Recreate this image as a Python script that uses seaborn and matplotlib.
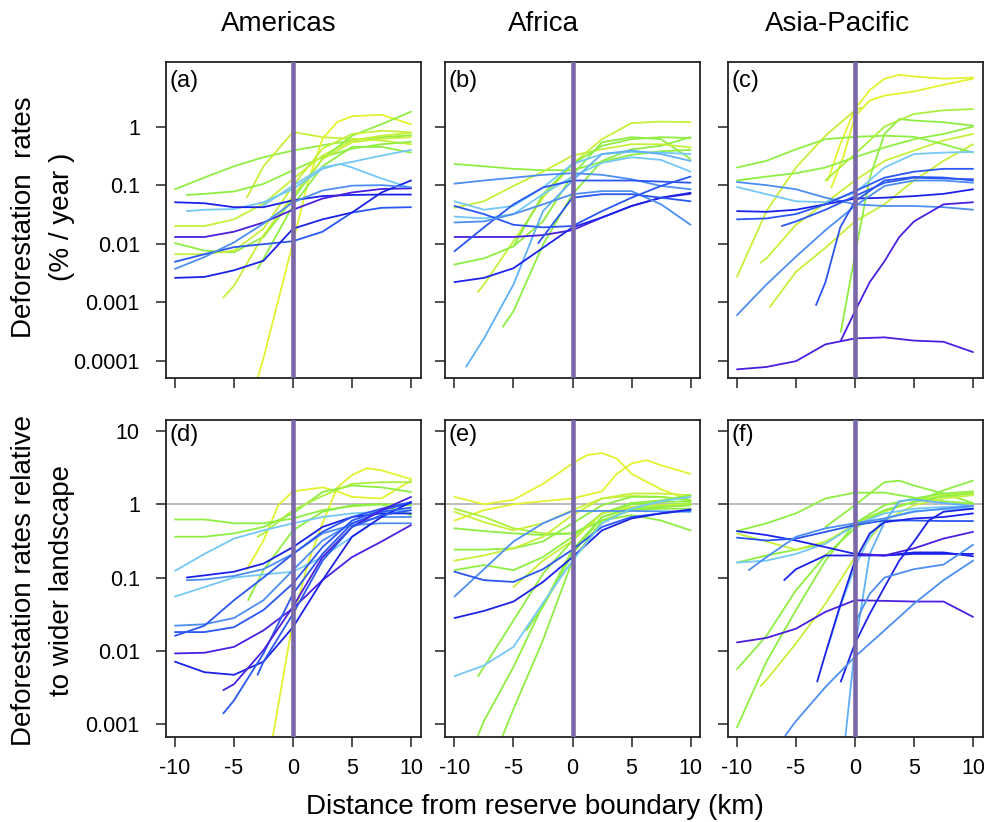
import pandas as pd
import matplotlib
matplotlib.use("Agg")
import matplotlib.pyplot as plt
from matplotlib.ticker import NullLocator
import seaborn as sns

GRID = [-10, -7.5, -5, -2.5, 0, 2.5, 5, 7.5, 10]

# (a) Americas - deforestation rate (% / year)
a_x = [GRID, [-3.9, -2.5, 0, 2.5, 5, 7.5, 10], [-3, -2.5, 0, 1.25, 2.5, 3.75, 5, 7.5, 10],
       [-9, -7.5, -5, -2.5, 0, 2.5, 5, 7.5, 10], GRID, GRID, GRID,
       [-5.9, -5, -2.5, 0, 2.5, 5, 7.5, 10], [-3, -2.5, 0, 2.5, 5, 7.5, 10],
       [-9, -7.5, -5, -2.5, 0, 2.5, 4, 5, 7.5, 10], [-2.5, 0, 2.5, 5, 7.5, 10],
       GRID, GRID, GRID, GRID, GRID]
a_y = [[0.085, 0.135, 0.21, 0.30, 0.39, 0.48, 0.58, 0.66, 0.71],
       [0.062, 0.21, 0.81, 0.66, 0.62, 0.58, 0.50],
       [5e-5, 1.1e-4, 0.0105, 0.11, 0.62, 1.2, 1.5, 1.6, 1.1],
       [0.068, 0.071, 0.078, 0.105, 0.18, 0.30, 0.42, 0.50, 0.55],
       [0.020, 0.020, 0.026, 0.048, 0.128, 0.32, 0.58, 0.70, 0.78],
       [0.0102, 0.0076, 0.0071, 0.013, 0.058, 0.28, 0.70, 1.1, 1.8],
       [0.0066, 0.0066, 0.0076, 0.018, 0.098, 0.42, 0.75, 0.85, 0.80],
       [0.0012, 0.0019, 0.014, 0.066, 0.28, 0.54, 0.62, 0.66],
       [0.0037, 0.0055, 0.045, 0.21, 0.45, 0.45, 0.36],
       [0.036, 0.038, 0.039, 0.051, 0.086, 0.19, 0.23, 0.20, 0.13, 0.089],
       [0.045, 0.098, 0.20, 0.25, 0.32, 0.40],
       [0.051, 0.049, 0.042, 0.042, 0.055, 0.065, 0.068, 0.069, 0.069],
       [0.013, 0.013, 0.016, 0.023, 0.038, 0.059, 0.075, 0.086, 0.088],
       [0.0049, 0.0066, 0.0087, 0.0098, 0.011, 0.016, 0.034, 0.041, 0.042],
       [0.0026, 0.0027, 0.0035, 0.0051, 0.018, 0.026, 0.034, 0.075, 0.12],
       [0.0037, 0.0059, 0.0105, 0.022, 0.051, 0.081, 0.098, 0.10, 0.092]]
a_c = ["G", "YG", "Y", "G", "YG", "G", "YG", "YG", "G", "LB", "LB",
       "DB", "P", "B", "DB", "MB"]

# (b) Africa
b_x = [GRID, [-8, -7.5, -5, -2.5, 0, 2.5, 5, 7.5, 10], [-5.9, -5, -2.5, 0, 2.5, 5, 7.5, 10],
       GRID, GRID, [-5, -2.5, 0, 2.5, 5, 7.5, 10], GRID, GRID,
       [-9, -7.5, -5, -2.5, 0, 2.5, 5, 7.5, 10], GRID, GRID, GRID, GRID, GRID, GRID,
       [-2.9, 0, 2.5, 5, 7.5, 10]]
b_y = [[0.23, 0.21, 0.19, 0.18, 0.18, 0.25, 0.33, 0.38, 0.40],
       [0.0015, 0.002, 0.011, 0.061, 0.23, 0.61, 1.15, 1.22, 1.19],
       [0.00038, 0.0007, 0.0096, 0.07, 0.26, 0.41, 0.47, 0.66],
       [0.0044, 0.0056, 0.009, 0.024, 0.15, 0.54, 0.66, 0.61, 0.28],
       [0.041, 0.053, 0.097, 0.17, 0.32, 0.41, 0.50, 0.50, 0.44],
       [0.009, 0.07, 0.23, 0.47, 0.61, 0.66, 0.64],
       [0.053, 0.038, 0.044, 0.091, 0.23, 0.34, 0.37, 0.36, 0.34],
       [0.029, 0.027, 0.032, 0.07, 0.14, 0.24, 0.30, 0.27, 0.17],
       [7.9e-5, 0.00024, 0.002, 0.036, 0.12, 0.34, 0.39, 0.34, 0.26],
       [0.106, 0.12, 0.134, 0.15, 0.16, 0.15, 0.126, 0.097, 0.085],
       [0.044, 0.032, 0.021, 0.019, 0.02, 0.036, 0.061, 0.097, 0.14],
       [0.013, 0.013, 0.013, 0.014, 0.017, 0.028, 0.044, 0.061, 0.071],
       [0.0074, 0.019, 0.047, 0.091, 0.12, 0.12, 0.12, 0.115, 0.11],
       [0.0022, 0.0026, 0.0038, 0.0085, 0.019, 0.028, 0.044, 0.061, 0.074],
       [0.023, 0.024, 0.032, 0.047, 0.07, 0.079, 0.079, 0.047, 0.021],
       [0.0102, 0.061, 0.07, 0.07, 0.061, 0.053]]
b_c = ["G", "YG", "G", "G", "YG", "G", "LB", "LB", "LB2",
       "MB", "B", "P", "B", "DB", "MB", "B"]

# (c) Asia-Pacific
c_x = [[-2.3, -1.25, 0, 1.25, 2.5, 3.75, 5, 7.5, 10], [-2, -1, 0, 1.25, 2.5, 5, 7.5, 10],
       [-10, -7.5, -5, -2.5, 0, 0.5], [-8, -7.5, -5, -2.5, 0, 2.5, 5, 7.5, 10],
       [-7.2, -5, -2.5, 0, 2.5, 5, 7.5, 10], GRID, GRID,
       [-1.2, 0, 1.25, 2.5, 3.75, 5, 7.5, 10], [-2.5, 0, 2.5, 5, 7.5, 10],
       GRID, GRID, GRID, GRID, [-6.2, -5, -2.5, 0, 2.5, 5, 7.5, 10], GRID,
       [-3.3, -2.5, -1.25, 0, 2.5, 5, 7.5, 10], [-1.2, 0, 1.25, 2.5, 3.75, 5, 7.5, 10], GRID]
c_y = [[0.12, 0.5, 2.0, 4.2, 6.6, 7.7, 7.2, 6.6, 6.9],
       [0.091, 0.3, 1.5, 2.8, 3.4, 4.0, 5.2, 6.6],
       [0.0027, 0.036, 0.2, 0.7, 1.9, 2.1],
       [0.0047, 0.0056, 0.021, 0.05, 0.12, 0.26, 0.39, 0.58, 0.75],
       [0.00083, 0.0033, 0.0085, 0.024, 0.047, 0.12, 0.26, 0.5],
       [0.2, 0.26, 0.41, 0.61, 0.67, 0.70, 0.67, 0.5, 0.36],
       [0.12, 0.14, 0.16, 0.2, 0.3, 0.44, 0.61, 0.75, 1.0],
       [0.00031, 0.0065, 0.134, 0.75, 1.35, 1.27, 1.19, 1.04],
       [0.12, 0.34, 1.0, 1.65, 1.9, 2.0],
       [0.093, 0.07, 0.053, 0.051, 0.074, 0.2, 0.34, 0.36, 0.37],
       [0.113, 0.10, 0.085, 0.061, 0.047, 0.044, 0.044, 0.042, 0.038],
       [0.036, 0.035, 0.038, 0.047, 0.059, 0.061, 0.065, 0.071, 0.085],
       [0.026, 0.027, 0.032, 0.047, 0.079, 0.134, 0.17, 0.19, 0.19],
       [0.02, 0.024, 0.038, 0.065, 0.11, 0.134, 0.13, 0.126],
       [0.0006, 0.002, 0.006, 0.017, 0.044, 0.097, 0.12, 0.12, 0.11],
       [0.00089, 0.0022, 0.019, 0.053, 0.12, 0.138, 0.135, 0.12],
       [0.00022, 0.0007, 0.0022, 0.005, 0.013, 0.024, 0.047, 0.051],
       [7.1e-5, 7.8e-5, 9.8e-5, 0.00019, 0.00024, 0.00025, 0.00022, 0.00021, 0.00014]]
c_c = ["Y", "Y", "YG", "YG", "YG", "G", "G", "G", "G2",
       "LB", "MB", "DB", "B", "B", "MB", "B", "P", "P"]

# (d) Americas - relative to wider landscape
d_x = [[-1.7, 0, 1.25, 2.5, 3.75, 5, 6.25, 7.5, 10], [-3.9, -2.5, -1.25, 0, 2.5, 3.75, 5, 7.5, 10],
       GRID, GRID, [-3, -2.5, 0, 2.5, 5, 7.5, 10], [-3.8, -2.5, 0, 2.5, 5, 7.5, 10],
       GRID, [-10, -7.5, -5, -2.5, 0, 2.5, 5, 6.5], [-9, -7.5, -5, -2.5, 0, 2.5, 5, 7.5, 10],
       [-9, -7.5, -5, -2.5, 0, 2.5, 5, 7.5, 10], GRID, GRID, GRID, GRID, GRID,
       [-5.9, -5, -2.5, 0, 2.5, 5, 7.5, 10], [-5.9, -5, -2.5, 0, 2.5, 5, 7.5, 10],
       [-3, -2.5, 0, 2.5, 5, 7.5, 10]]
d_y = [[0.00069, 0.026, 0.155, 0.55, 1.7, 2.5, 3.1, 2.9, 2.2],
       [0.13, 0.32, 0.97, 1.5, 1.7, 1.5, 1.26, 1.2, 2.1],
       [0.62, 0.62, 0.55, 0.55, 0.64, 0.83, 0.94, 1.0, 0.97],
       [0.36, 0.36, 0.40, 0.49, 0.75, 1.47, 1.8, 1.7, 1.47],
       [0.36, 0.40, 0.83, 1.3, 1.9, 2.0, 2.0],
       [0.049, 0.126, 0.44, 0.79, 0.97, 1.0, 0.71],
       [0.123, 0.21, 0.34, 0.44, 0.55, 0.67, 0.75, 0.79, 0.83],
       [0.055, 0.074, 0.10, 0.11, 0.12, 0.19, 0.36, 0.52],
       [0.092, 0.094, 0.105, 0.13, 0.21, 0.40, 0.52, 0.55, 0.55],
       [0.10, 0.107, 0.12, 0.155, 0.26, 0.49, 0.67, 0.75, 0.75],
       [0.022, 0.023, 0.028, 0.049, 0.126, 0.32, 0.55, 0.67, 0.67],
       [0.016, 0.022, 0.049, 0.10, 0.21, 0.42, 0.67, 0.87, 1.07],
       [0.018, 0.018, 0.021, 0.036, 0.083, 0.26, 0.60, 0.83, 1.04],
       [0.0092, 0.0094, 0.0113, 0.019, 0.038, 0.092, 0.19, 0.31, 0.52],
       [0.0071, 0.0051, 0.0047, 0.0071, 0.021, 0.092, 0.36, 0.67, 1.07],
       [0.0014, 0.0021, 0.0092, 0.06, 0.21, 0.55, 0.79, 0.90],
       [0.0029, 0.0035, 0.0102, 0.04, 0.19, 0.49, 0.83, 1.26],
       [0.0047, 0.0071, 0.032, 0.17, 0.49, 0.71, 0.83]]
d_c = ["Y", "Y", "G", "G", "G2", "G", "LB", "LB", "MB",
       "DB", "MB", "B", "B", "P", "DB", "B", "P", "B"]

# (e) Africa - relative
e_x = [[-10, -7.5, -5, -2.5, 0, 1.25, 2.5, 3.75, 5, 7.5, 10],
       [-10, -7.5, -5, -2.5, 0, 2.5, 3.75, 5, 6.25, 7.5, 10],
       GRID, GRID, GRID, GRID, GRID, GRID,
       [-8, -7.5, -5, -2.5, 0, 2.5, 5, 7.5, 10], [-8, -7.5, -5, -2.5, 0, 2.5, 5, 7.5, 10],
       [-5.9, -5, -2.5, 0, 2.5, 5, 7.5, 10], [-5, -2.5, 0, 2.5, 5, 7.5, 10],
       [-3.9, -2.5, 0, 2.5, 5, 7.5, 10], GRID, GRID, GRID, GRID]
e_y = [[1.26, 1.0, 1.15, 1.9, 3.6, 4.7, 5.0, 4.2, 2.6, 1.6, 1.13],
       [0.6, 0.83, 1.0, 1.1, 1.2, 1.5, 2.6, 3.6, 4.0, 3.4, 2.6],
       [0.87, 0.67, 0.47, 0.40, 0.40, 0.6, 0.83, 0.92, 0.97],
       [0.79, 0.57, 0.44, 0.55, 0.83, 1.2, 1.3, 1.26, 1.16],
       [0.47, 0.43, 0.40, 0.38, 0.40, 0.6, 0.71, 0.6, 0.44],
       [0.24, 0.24, 0.25, 0.31, 0.55, 0.97, 1.26, 1.26, 1.13],
       [0.17, 0.2, 0.25, 0.36, 0.71, 1.2, 1.4, 1.4, 1.33],
       [0.126, 0.148, 0.126, 0.19, 0.36, 0.75, 1.0, 1.07, 1.1],
       [0.0045, 0.006, 0.026, 0.113, 0.32, 0.75, 1.04, 1.13, 1.33],
       [0.0007, 0.0011, 0.006, 0.042, 0.24, 0.67, 0.92, 0.97, 1.04],
       [0.0007, 0.0016, 0.014, 0.17, 0.6, 0.83, 0.87, 0.87],
       [0.074, 0.17, 0.32, 0.75, 0.92, 0.97, 1.0],
       [0.019, 0.04, 0.21, 0.67, 0.87, 0.92, 0.97],
       [0.055, 0.13, 0.31, 0.55, 0.81, 0.81, 0.81, 0.80, 0.79],
       [0.12, 0.092, 0.087, 0.13, 0.24, 0.49, 0.67, 0.75, 0.83],
       [0.028, 0.035, 0.047, 0.087, 0.19, 0.44, 0.64, 0.75, 0.85],
       [0.0045, 0.0063, 0.0113, 0.045, 0.17, 0.55, 0.87, 1.1, 1.26]]
e_c = ["Y", "Y", "G2", "YG", "G", "G", "YG", "G", "G", "G", "G", "YG", "G",
       "MB", "B", "DB", "LB"]

# (f) Asia-Pacific - relative
f_x = [GRID, [-2.5, 0, 1.25, 2.5, 3.75, 5, 7.5, 10], GRID, GRID, GRID, GRID,
       [-8, -7.5, -5, -2.5, 0, 2.5, 5, 7.5, 10], GRID,
       [-2.3, -1.25, 0, 1.25, 2.5, 5, 7.5, 10], [-0.8, 0, 1.25, 2.5, 3.75, 5, 7.5, 10],
       GRID, GRID, [-9, -7.5, -5, -2.5, 0, 2.5, 5, 7.5, 10], [-6, -5, -2.5, 0, 2.5, 5, 7.5, 10],
       GRID, [0, 2.5, 5, 7.5, 10], [-3.2, -2.5, -1.25, 0, 1.25, 2.5, 5, 7.5, 10],
       [-1.2, 0, 1.25, 2.5, 3.75, 5, 6.25, 7.5, 10], [-5.9, -5, -2.5, 0, 2.5, 5, 7.5, 10],
       [0, 1.25, 2.5, 5, 7.5, 10]]
f_y = [[0.43, 0.55, 0.75, 1.2, 1.44, 1.44, 1.23, 1.1, 1.02],
       [0.49, 0.97, 1.4, 2.0, 2.1, 1.8, 1.4, 1.04],
       [0.16, 0.2, 0.24, 0.29, 0.55, 0.83, 1.07, 1.55, 2.1],
       [0.40, 0.31, 0.24, 0.31, 0.52, 0.79, 1.1, 1.33, 1.43],
       [0.0009, 0.0071, 0.036, 0.17, 0.55, 0.97, 1.2, 1.4, 1.5],
       [0.0056, 0.016, 0.067, 0.2, 0.47, 0.83, 1.07, 1.28, 1.4],
       [0.0033, 0.004, 0.0126, 0.044, 0.19, 0.6, 0.97, 1.2, 1.33],
       [0.16, 0.17, 0.21, 0.29, 0.52, 0.75, 0.87, 0.92, 0.94],
       [0.0113, 0.04, 0.14, 0.36, 0.64, 0.81, 0.85, 0.87],
       [0.0007, 0.0113, 0.21, 0.57, 1.1, 1.16, 1.04, 0.94],
       [0.43, 0.38, 0.32, 0.26, 0.21, 0.2, 0.22, 0.22, 0.195],
       [0.35, 0.32, 0.34, 0.42, 0.52, 0.6, 0.6, 0.59, 0.59],
       [0.126, 0.19, 0.36, 0.47, 0.55, 0.64, 0.79, 0.87, 0.94],
       [0.092, 0.13, 0.2, 0.2, 0.2, 0.21, 0.21, 0.21],
       [0.013, 0.015, 0.020, 0.034, 0.049, 0.048, 0.047, 0.047, 0.029],
       [0.21, 0.2, 0.25, 0.34, 0.42],
       [0.0038, 0.0092, 0.042, 0.17, 0.4, 0.57, 0.64, 0.67, 0.75],
       [0.0038, 0.0126, 0.032, 0.074, 0.17, 0.31, 0.6, 0.79, 0.87],
       [0.0007, 0.0011, 0.0032, 0.0083, 0.019, 0.044, 0.092, 0.17],
       [0.024, 0.06, 0.1, 0.13, 0.15, 0.28]]
f_c = ["G", "G", "G", "YG", "G", "G", "YG", "LB", "LB", "LB2",
       "DB", "B", "MB", "DB", "P", "P", "DB", "DB", "MB", "MB"]

titles = ["Americas", "Africa", "Asia-Pacific"]
letters = ["(a)", "(b)", "(c)", "(d)", "(e)", "(f)"]
top_ticks = [0.0001, 0.001, 0.01, 0.1, 1]
top_labels = ["0.0001", "0.001", "0.01", "0.1", "1"]
bot_ticks = [0.001, 0.01, 0.1, 1, 10]
bot_labels = ["0.001", "0.01", "0.1", "1", "10"]
x_ticks = [-10, -5, 0, 5, 10]

# yellow -> green -> light blue -> blue -> violet
shades = {"Y": "#e2f22e", "YG": "#c6f03a", "G": "#8fee42", "G2": "#a9f03e",
          "LB": "#74c8f8", "LB2": "#5fb0f6", "MB": "#4d8ef2", "B": "#2a56f2",
          "DB": "#1b22e8", "P": "#4a1fe0"}

panels = [("a", a_x, a_y, a_c), ("b", b_x, b_y, b_c), ("c", c_x, c_y, c_c),
          ("d", d_x, d_y, d_c), ("e", e_x, e_y, e_c), ("f", f_x, f_y, f_c)]

rows = []
palette = {}
for key, xs_all, ys_all, cols in panels:
    for i, (xs, ys) in enumerate(zip(xs_all, ys_all)):
        name = f"{key}{i}"
        palette[name] = shades[cols[i]]
        for x, y in zip(xs, ys):
            rows.append((key, name, x, y))
df = pd.DataFrame(rows, columns=["panel", "curve", "x", "y"])

sns.set_style("ticks")
plt.rcParams["font.family"] = ["Liberation Sans", "DejaVu Sans"]
plt.rcParams["text.color"] = "black"
plt.rcParams["xtick.labelcolor"] = "black"
plt.rcParams["ytick.labelcolor"] = "black"

fig = plt.figure(figsize=(9.84, 8.22), dpi=100)
W, H = 984, 822
lefts = [165.5, 445, 727.5]
tops = [61.7, 420]
pw, ph = 255, 316.5

for r in range(2):
    for c in range(3):
        k = r * 3 + c
        key = panels[k][0]
        ax = fig.add_axes([lefts[c] / W, 1 - (tops[r] + ph) / H, pw / W, ph / H])
        sub = df[df["panel"] == key]
        ax.set_yscale("log")
        sns.lineplot(data=sub, x="x", y="y", hue="curve", palette=palette,
                     estimator=None, sort=False, legend=False, ax=ax,
                     linewidth=1.3, zorder=2)
        ax.axvline(0, color="#7a68a8", lw=3.3, zorder=3)
        if r == 1:
            ax.axhline(1, color="#aaaaaa", lw=1.1, zorder=1)
            ax.set_ylim(10 ** -3.17, 10 ** 1.15)
            ax.set_yticks(bot_ticks)
            ax.set_yticklabels(bot_labels)
        else:
            ax.set_ylim(10 ** -4.3, 10 ** 1.11)
            ax.set_yticks(top_ticks)
            ax.set_yticklabels(top_labels)
        ax.yaxis.set_minor_locator(NullLocator())
        ax.set_xlim(-10.8, 10.8)
        ax.set_xticks(x_ticks)
        ax.set_xticklabels([str(t) for t in x_ticks])
        ax.set_xlabel("")
        ax.set_ylabel("")
        for s in ax.spines.values():
            s.set_visible(True)
            s.set_linewidth(1.3)
            s.set_color("#222222")
        ax.tick_params(axis="both", length=7.5, width=1.1, color="#222222",
                       labelsize=15.5, labelcolor="black")
        ax.tick_params(axis="y", pad=11)
        ax.tick_params(axis="x", pad=8)
        if c > 0:
            ax.tick_params(axis="y", labelleft=False)
        if r == 0:
            ax.tick_params(axis="x", labelbottom=False)
        ytxt = 0.974 if r == 0 else 0.988
        ax.text(0.014, ytxt, letters[k], transform=ax.transAxes, fontsize=17,
                ha="left", va="top", color="black")

# column titles
for cx, t in zip([278.5, 543, 837.5], titles):
    fig.text(cx / W, 1 - 30.7 / H, t, ha="center", va="baseline", fontsize=20,
             color="black")

# row labels
fig.text(24 / W, 1 - 217 / H, "Deforestation  rates", rotation=90,
         ha="center", va="center", fontsize=20, color="black")
fig.text(62 / W, 1 - 217 / H, "(% / year )", rotation=90,
         ha="center", va="center", fontsize=20, color="black")
fig.text(24 / W, 1 - 580 / H, "Deforestation rates relative", rotation=90,
         ha="center", va="center", fontsize=20, color="black")
fig.text(62 / W, 1 - 580 / H, "to wider landscape", rotation=90,
         ha="center", va="center", fontsize=20, color="black")

fig.text(534.5 / W, 1 - 814 / H, "Distance from reserve boundary (km)",
         ha="center", va="baseline", fontsize=20, color="black")

fig.savefig("out.png", dpi=100)
